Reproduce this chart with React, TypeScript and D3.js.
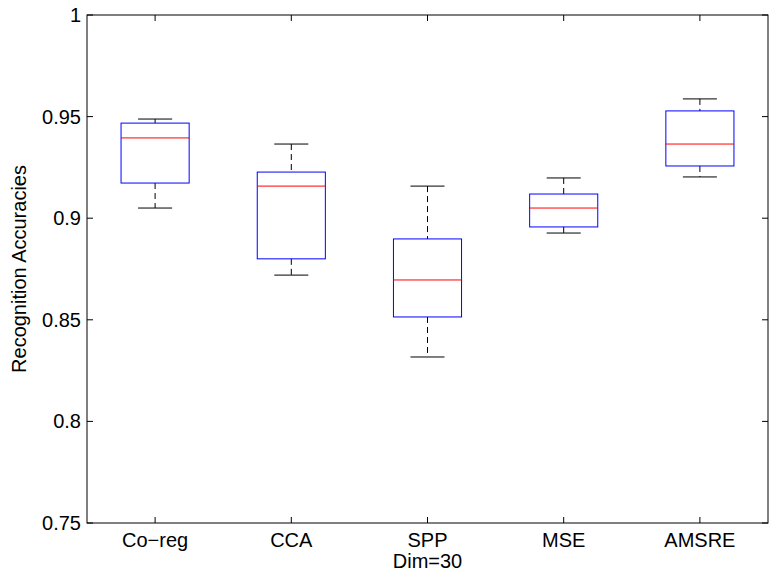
import React from 'react';
import * as d3 from 'd3';

// box statistics
const methods = ['Co\u2212reg', 'CCA', 'SPP', 'MSE', 'AMSRE'];
const lowerWhisker = [0.905, 0.872, 0.8317, 0.8927, 0.9203];
const q1 = [0.9173, 0.88, 0.8514, 0.8957, 0.9257];
const median = [0.9395, 0.9158, 0.8696, 0.905, 0.9365];
const q3 = [0.9468, 0.9227, 0.8898, 0.9119, 0.9528];
const upperWhisker = [0.9488, 0.9365, 0.9158, 0.9198, 0.9587];
const yTicks = [0.75, 0.8, 0.85, 0.9, 0.95, 1];

const W = 781;
const H = 580;
const margin = { left: 87, right: 13, top: 15, bottom: 57 };

const App = () => {
  const x = d3.scaleLinear().domain([0.5, methods.length + 0.5]).range([margin.left, W - margin.right]);
  const y = d3.scaleLinear().domain([0.75, 1]).range([H - margin.bottom, margin.top]);
  const boxHalf = x(0.25) - x(0);
  const capHalf = x(0.125) - x(0);
  const font = 'Liberation Sans, Arial, sans-serif';
  const fs = 20;
  const x0 = margin.left;
  const x1 = W - margin.right;
  const y0 = H - margin.bottom;
  const y1 = margin.top;
  const tick = 6;

  return (
    <svg width={W} height={H} style={{ position: 'absolute', left: 0, top: 0, background: '#fff' }}>
      <rect x={0} y={0} width={W} height={H} fill="#fff" />
      {methods.map((m, i) => {
        const cx = x(i + 1);
        return (
          <g key={m}>
            <line x1={cx} x2={cx} y1={y(upperWhisker[i])} y2={y(q3[i])} stroke="#000" strokeDasharray="6,4" />
            <line x1={cx} x2={cx} y1={y(q1[i])} y2={y(lowerWhisker[i])} stroke="#000" strokeDasharray="6,4" />
            <line x1={cx - capHalf} x2={cx + capHalf} y1={y(upperWhisker[i])} y2={y(upperWhisker[i])} stroke="#000" />
            <line x1={cx - capHalf} x2={cx + capHalf} y1={y(lowerWhisker[i])} y2={y(lowerWhisker[i])} stroke="#000" />
            <rect x={cx - boxHalf} y={y(q3[i])} width={boxHalf * 2} height={y(q1[i]) - y(q3[i])} fill="none" stroke="#0000ff" />
            <line x1={cx - boxHalf} x2={cx + boxHalf} y1={y(median[i])} y2={y(median[i])} stroke="#ff0000" />
          </g>
        );
      })}
      <rect x={x0} y={y1} width={x1 - x0} height={y0 - y1} fill="none" stroke="#000" />
      {yTicks.map(t => (
        <g key={t}>
          <line x1={x0} x2={x0 + tick} y1={y(t)} y2={y(t)} stroke="#000" />
          <line x1={x1} x2={x1 - tick} y1={y(t)} y2={y(t)} stroke="#000" />
          <text x={x0 - 6} y={y(t)} dy="0.35em" textAnchor="end" fontFamily={font} fontSize={fs}>
            {d3.format('')(t)}
          </text>
        </g>
      ))}
      {methods.map((m, i) => (
        <g key={'t' + m}>
          <line x1={x(i + 1)} x2={x(i + 1)} y1={y0} y2={y0 - tick} stroke="#000" />
          <line x1={x(i + 1)} x2={x(i + 1)} y1={y1} y2={y1 + tick} stroke="#000" />
          <text x={x(i + 1)} y={y0 + 24} textAnchor="middle" fontFamily={font} fontSize={fs}>
            {m}
          </text>
        </g>
      ))}
      <text x={(x0 + x1) / 2} y={y0 + 45} textAnchor="middle" fontFamily={font} fontSize={fs}>
        Dim=30
      </text>
      <text transform={`translate(26,${(y0 + y1) / 2}) rotate(-90)`} textAnchor="middle" fontFamily={font} fontSize={fs}>
        Recognition Accuracies
      </text>
    </svg>
  );
};

export default App;
